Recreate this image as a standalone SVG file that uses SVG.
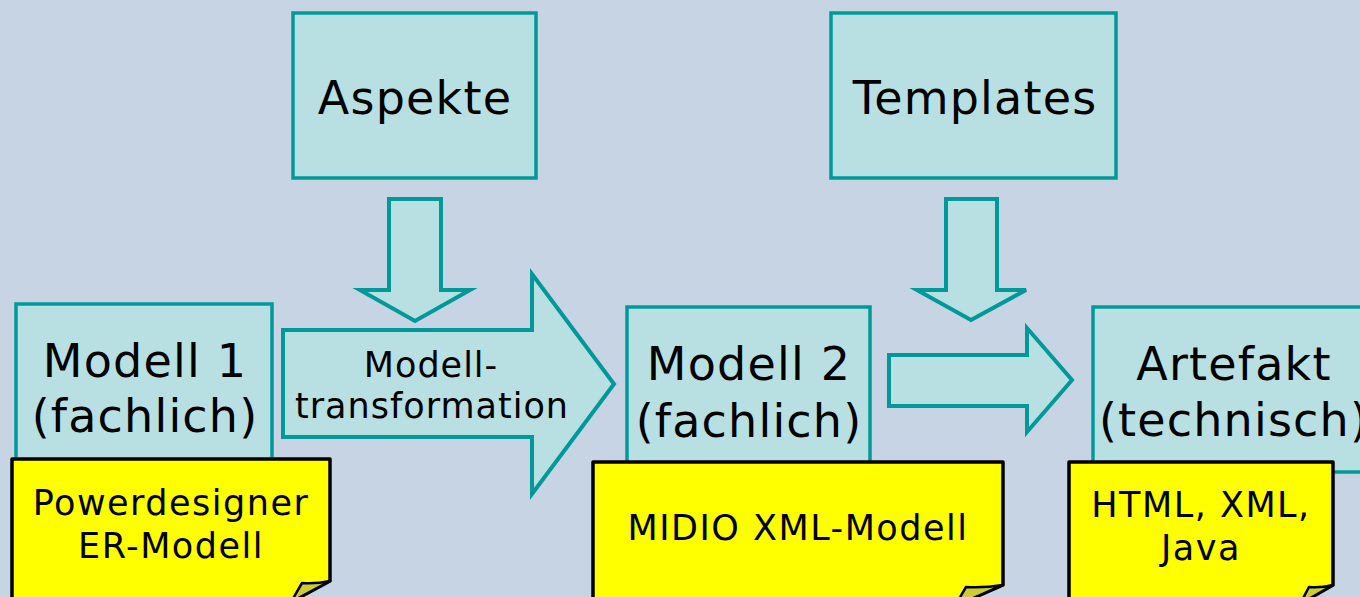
<svg xmlns="http://www.w3.org/2000/svg" width="1360" height="597" viewBox="0 0 1360 597">
  <style>
    .box { fill: #b8e0e3; stroke: #009999; stroke-width: 3.5; }
    .arrow { fill: #b8e0e3; stroke: #009999; stroke-width: 4; stroke-linejoin: miter; }
    .note { fill: #ffff00; stroke: #000000; stroke-width: 3.5; stroke-linejoin: round; }
    .fold { fill: #cccc33; stroke: #000000; stroke-width: 2.5; stroke-linejoin: round; }
    .big { font-family: "DejaVu Sans", Verdana, sans-serif; font-size: 46px; letter-spacing: 1.2px; fill: #000000; text-anchor: middle; }
    .mid { font-family: "DejaVu Sans", Verdana, sans-serif; font-size: 35px; letter-spacing: 1px; fill: #000000; text-anchor: middle; }
    .small { font-family: "DejaVu Sans", Verdana, sans-serif; font-size: 35px; letter-spacing: 1.5px; fill: #000000; text-anchor: middle; }
  </style>
  <rect x="0" y="0" width="1360" height="597" fill="#c6d4e4"/>

  <!-- block arrows -->
  <g id="connectors">
    <!-- Aspekte down into transformation -->
    <polygon class="arrow" points="389,199 441,199 441,290 470,290 415,321 360,290 389,290"/>
    <!-- Modell-transformation: Modell 1 to Modell 2 -->
    <polygon class="arrow" points="283,330 532,330 532,274 614,384 532,494 532,437 283,437"/>
    <!-- Templates down -->
    <polygon class="arrow" points="946,199 997,199 997,290 1026,290 971,320 917,290 946,290"/>
    <!-- Modell 2 to Artefakt -->
    <polygon class="arrow" points="889,355 1027,355 1027,328 1072,380 1027,432 1027,406 889,406"/>
    <text class="mid" x="431" y="377">Modell-</text>
    <text class="mid" x="432" y="418">transformation</text>
  </g>

  <g id="aspekte">
    <rect class="box" x="293" y="13" width="243" height="165"/>
    <text class="big" x="415" y="114">Aspekte</text>
  </g>

  <g id="templates">
    <rect class="box" x="831" y="13" width="285" height="165"/>
    <text class="big" x="975" y="114">Templates</text>
  </g>

  <g id="modell1">
    <rect class="box" x="16" y="304" width="256" height="168"/>
    <text class="big" x="145" y="377">Modell 1</text>
    <text class="big" x="145" y="432">(fachlich)</text>
  </g>

  <g id="modell2">
    <rect class="box" x="627" y="307" width="243" height="165"/>
    <text class="big" x="749" y="380">Modell 2</text>
    <text class="big" x="749" y="437">(fachlich)</text>
  </g>

  <g id="artefakt">
    <rect class="box" x="1093" y="307" width="290" height="165"/>
    <text class="big" x="1234" y="380">Artefakt</text>
    <text class="big" x="1234" y="436">(technisch)</text>
  </g>

  <g id="note-powerdesigner">
    <path class="note" d="M12,459 H330 V581 L291,602 H12 Z"/>
    <path class="fold" d="M291,602 L302,583 Q316,584 330,581 Z"/>
    <text class="small" x="171" y="515">Powerdesigner</text>
    <text class="small" x="171" y="558">ER-Modell</text>
  </g>

  <g id="note-midio">
    <path class="note" d="M593,462 H1003 V585 L955,606 H593 Z"/>
    <path class="fold" d="M955,606 L966,587 Q984,588 1003,585 Z"/>
    <text class="small" x="798" y="540">MIDIO XML-Modell</text>
  </g>

  <g id="note-html">
    <path class="note" d="M1069,462 H1333 V585 L1300,604 H1069 Z"/>
    <path class="fold" d="M1300,604 L1309,587 Q1321,588 1333,585 Z"/>
    <text class="small" x="1201" y="517">HTML, XML,</text>
    <text class="small" x="1201" y="560">Java</text>
  </g>
</svg>
